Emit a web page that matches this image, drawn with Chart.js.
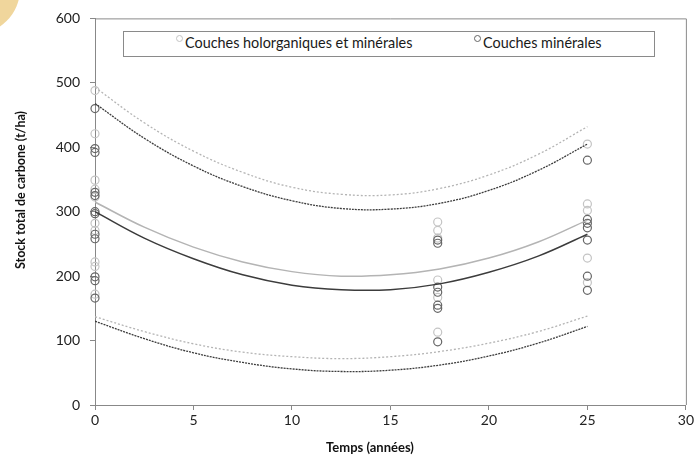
<!DOCTYPE html>
<html>
<head>
<meta charset="utf-8">
<script src="https://cdn.jsdelivr.net/npm/chart.js@4.4.1/dist/chart.umd.min.js"></script>
<style>
  body { margin: 0; background: #fff; }
  #wrap { position: relative; width: 696px; height: 457px; overflow: hidden; font-family: Lato, "Open Sans", sans-serif; }
  #blob { position: absolute; left: -70px; top: -56px; width: 90px; height: 90px; border-radius: 50%; background: #f0d69c; }
  #legend { position: absolute; left: 123px; top: 31px; width: 530px; height: 24px; border: 1px solid #8a8a8a; background: #fff; }
  .item { position: absolute; top: 2px; font-size: 14.4px; color: #1a1a1a; white-space: nowrap; }
  .dot { position: absolute; top: 3px; width: 5px; height: 5px; border-radius: 50%; border: 1px solid; background: #fff; }
  .axt { position: absolute; font-weight: bold; color: #111; white-space: nowrap; }
  #xtitle { left: 370px; top: 447px; font-size: 13px; transform: translate(-50%, -50%); }
  #ytitle { left: 20px; top: 190px; font-size: 12.5px; transform: translate(-50%, -50%) rotate(-90deg); }
</style>
</head>
<body>
<div id="wrap">
  <canvas id="myChart" width="696" height="457"></canvas>
  <div id="blob"></div>
  <div id="legend">
    <span class="dot" style="left:52px;border-color:#c4c4c4"></span>
    <span class="item" style="left:61px">Couches holorganiques et minérales</span>
    <span class="dot" style="left:350px;border-color:#666"></span>
    <span class="item" style="left:359px">Couches minérales</span>
  </div>
  <div class="axt" id="xtitle">Temps (années)</div>
  <div class="axt" id="ytitle">Stock total de carbone (t/ha)</div>
</div>
<script>
// fitted curves, every 2.5 years
const timeYears = [0, 2.5, 5, 7.5, 10, 12.5, 15, 17.5, 20, 22.5, 25];
const fitHoloMean = [315, 276, 245, 222, 207, 200, 202, 211, 228, 253, 287];
const fitMinMean = [300, 259, 227, 202, 186, 179, 179, 188, 206, 231, 265];
const fitHoloUpper = [493, 438, 394, 361, 338, 327, 326, 336, 357, 389, 432];
const fitMinUpper = [468, 414, 371, 339, 317, 305, 304, 313, 333, 364, 405];
const fitHoloLower = [137, 114, 95, 82, 75, 72, 75, 83, 96, 114, 138];
const fitMinLower = [130, 103, 81, 66, 56, 52, 54, 62, 76, 96, 122];

// observed stocks (t/ha) at each sampling time
const sampleTimes = [0, 17.4, 25];
const holoObs = [
  [488, 421, 349, 335, 323, 282, 271, 222, 215, 172],
  [284, 271, 259, 194, 167, 113],
  [405, 312, 302, 228, 190],
];
const minObs = [
  [460, 398, 392, 330, 325, 300, 297, 265, 258, 199, 193, 166],
  [256, 251, 183, 175, 155, 150, 98],
  [380, 288, 282, 275, 256, 200, 178],
];

const xTicks = [0, 5, 10, 15, 20, 25, 30];
const yTicks = [0, 100, 200, 300, 400, 500, 600];

const LIGHT = "#b4b4b4";
const DARK = "#3c3c3c";

function curve(values) {
  return timeYears.map(function (t, i) { return { x: t, y: values[i] }; });
}
function points(obs) {
  var out = [];
  sampleTimes.forEach(function (t, i) {
    obs[i].forEach(function (v) { out.push({ x: t, y: v }); });
  });
  return out;
}
function lineSet(values, color, dash, width) {
  return {
    type: "line",
    data: curve(values),
    borderColor: color,
    borderWidth: width,
    borderDash: dash,
    pointRadius: 0,
    tension: 0.4,
    fill: false,
  };
}

// frame round the plot area
const framePlugin = {
  id: "frame",
  afterDraw(chart) {
    const a = chart.chartArea;
    const ctx = chart.ctx;
    ctx.save();
    ctx.strokeStyle = "#8a8a8a";
    ctx.lineWidth = 1;
    ctx.beginPath();
    ctx.moveTo(a.left, a.top + 0.5);
    ctx.lineTo(a.right + 0.5, a.top + 0.5);
    ctx.lineTo(a.right + 0.5, a.bottom);
    ctx.stroke();
    ctx.restore();
  },
};

const tickFont = { family: "Lato", size: 14 };

const myChart = new Chart(document.getElementById("myChart"), {
  type: "scatter",
  data: {
    datasets: [
      {
        data: points(holoObs),
        pointRadius: 4,
        pointBorderWidth: 1.2,
        pointBorderColor: "#c4c4c4",
        pointBackgroundColor: "rgba(255,255,255,0)",
        clip: false,
        order: 2,
      },
      {
        data: points(minObs),
        pointRadius: 4,
        pointBorderWidth: 1.2,
        pointBorderColor: "#666",
        pointBackgroundColor: "rgba(255,255,255,0)",
        clip: false,
        order: 1,
      },
      lineSet(fitHoloUpper, LIGHT, [2, 2], 1.3),
      lineSet(fitMinUpper, DARK, [2, 1], 1.3),
      lineSet(fitHoloMean, LIGHT, [], 1.5),
      lineSet(fitMinMean, DARK, [], 1.5),
      lineSet(fitHoloLower, LIGHT, [2, 2], 1.3),
      lineSet(fitMinLower, DARK, [2, 1], 1.3),
    ],
  },
  options: {
    responsive: false,
    animation: false,
    layout: { padding: { top: 18, right: 10, left: 0, bottom: 0 } },
    plugins: { legend: { display: false }, tooltip: { enabled: false } },
    scales: {
      x: {
        type: "linear",
        min: 0,
        max: 30,
        afterFit(scale) { scale.height = 52; },
        afterBuildTicks(scale) { scale.ticks = xTicks.map(function (v) { return { value: v }; }); },
        border: { color: "#888", width: 1 },
        grid: { drawOnChartArea: false, tickLength: 5, color: "#888" },
        ticks: { color: "#222", font: tickFont, padding: 2 },
      },
      y: {
        min: 0,
        max: 600,
        afterFit(scale) { scale.width = 95; },
        afterBuildTicks(scale) { scale.ticks = yTicks.map(function (v) { return { value: v }; }); },
        border: { color: "#888", width: 1 },
        grid: { drawOnChartArea: false, tickLength: 5, color: "#888" },
        ticks: { color: "#222", font: tickFont, padding: 10 },
      },
    },
  },
  plugins: [framePlugin],
});
</script>
</body>
</html>
